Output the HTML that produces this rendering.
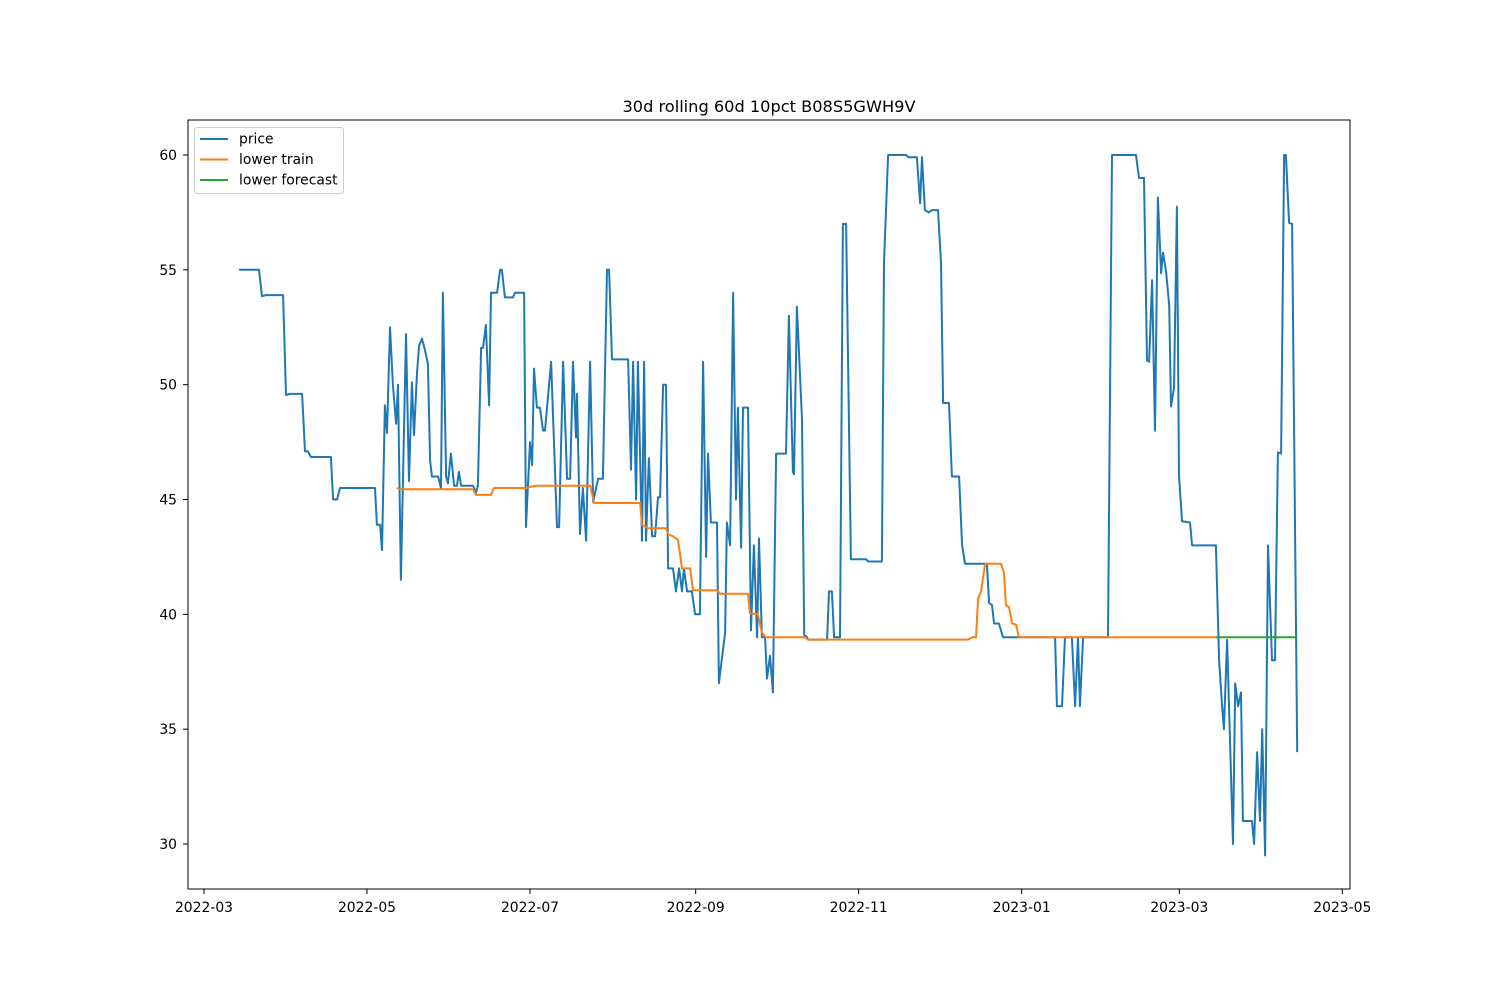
<!DOCTYPE html>
<html><head><meta charset="utf-8"><style>
html,body{margin:0;padding:0;background:#fff;}
svg text{font-family:"DejaVu Sans","Liberation Sans",sans-serif;}
</style></head><body>
<svg id="chart" width="1500" height="1000" viewBox="0 0 1500 1000" xmlns="http://www.w3.org/2000/svg">
<rect x="0" y="0" width="1500" height="1000" fill="#fff"/>
<text x="769" y="112" text-anchor="middle" font-size="16.2">30d rolling 60d 10pct B08S5GWH9V</text>
<g id="plot"></g>
<rect x="188" y="120" width="1162" height="769" fill="none" stroke="#000" stroke-width="1"/>
<g id="ticks"></g>
<g>
<rect x="194.5" y="127.5" width="149" height="66" rx="3" fill="#fff" fill-opacity="0.8" stroke="#ccc"/>
<g><line x1="200" y1="139" x2="228" y2="139" stroke="#1f77b4" stroke-width="2"/><text x="239" y="143.5" font-size="13.9">price</text></g>
<g><line x1="200" y1="159.5" x2="228" y2="159.5" stroke="#ff7f0e" stroke-width="2"/><text x="239" y="164" font-size="13.9">lower train</text></g>
<g><line x1="200" y1="180" x2="228" y2="180" stroke="#2ca02c" stroke-width="2"/><text x="239" y="184.5" font-size="13.9">lower forecast</text></g>
</g>
</svg>
<script>
// days since 2022-03-01
const xTickDays = [0, 61, 122, 184, 245, 306, 365, 426];
const xTickLabels = ["2022-03","2022-05","2022-07","2022-09","2022-11","2023-01","2023-03","2023-05"];
const yTickValues = [30, 35, 40, 45, 50, 55, 60];
const priceDays = [13.1,20.6,21.7,23.2,29.6,30.7,32.2,36.7,37.8,38.9,40.0,47.5,48.3,49.8,50.9,64.0,64.7,65.9,66.6,67.7,68.5,69.6,70.7,71.9,72.6,73.7,75.6,76.7,77.8,78.6,79.7,80.5,81.6,82.7,83.8,84.6,85.3,87.6,88.7,89.4,90.6,91.3,92.4,93.6,94.7,95.4,96.2,100.7,101.8,102.5,103.7,104.4,105.5,106.7,107.4,109.7,110.8,111.5,112.6,115.6,116.4,119.8,120.5,122.0,122.8,123.5,124.6,125.7,126.9,127.6,129.9,132.1,132.9,134.4,135.9,137.0,138.1,139.2,139.6,140.7,141.8,143.0,144.5,145.6,147.5,149.3,150.8,151.6,152.7,158.7,159.8,160.6,161.7,162.4,163.9,164.7,165.4,166.5,167.7,168.8,169.9,170.7,171.8,172.9,173.7,175.5,176.6,177.8,178.9,179.6,180.8,182.6,183.8,185.6,186.8,187.9,188.6,189.7,192.0,192.7,195.0,195.7,196.9,198.0,199.1,199.8,201.0,201.7,203.6,204.7,205.8,207.0,207.7,208.8,210.0,210.7,211.8,212.9,214.1,217.8,218.9,220.4,220.8,221.9,223.8,224.6,225.7,226.0,233.2,233.9,235.0,235.8,238.0,239.1,240.3,242.1,247.8,248.5,253.7,254.5,256.0,262.7,263.8,266.8,268.0,268.7,269.8,271.3,272.5,274.7,275.8,276.6,278.8,279.9,282.6,283.7,284.8,293.0,293.8,294.9,295.7,297.5,299.0,318.5,319.2,321.1,322.2,324.8,326.0,327.1,327.8,329.0,338.3,339.8,348.8,349.9,351.8,352.9,353.7,354.8,355.9,357.0,358.2,358.9,360.0,361.2,361.9,363.0,364.1,364.9,366.0,369.0,369.8,378.7,379.9,381.0,381.7,382.9,385.1,385.9,387.0,388.1,388.8,392.2,393.0,394.1,395.2,396.0,397.1,398.2,399.7,400.8,401.9,403.1,404.2,404.9,406.1,407.2,409.1];
const priceValues = [55,55,53.85,53.9,53.9,49.55,49.6,49.6,47.1,47.1,46.85,46.85,45,45,45.5,45.5,43.9,43.9,42.8,49.1,47.9,52.5,50,48.3,50,41.5,52.2,45.8,50.1,47.8,50.5,51.7,52,51.5,50.9,46.7,46,46,45.5,54,46,45.7,47,45.6,45.6,46.2,45.6,45.6,45.3,45.6,51.6,51.6,52.6,49.1,54,54,55,55,53.8,53.8,54,54,43.8,47.5,46.5,50.7,49,49,48,48,51,43.8,43.8,51,45.9,45.9,51,47.7,49.6,43.5,45.5,43.2,51,44.9,45.9,45.9,55,55,51.1,51.1,46.3,51,45,51,43.2,51,43.2,46.8,43.4,43.4,45.1,45.1,50,50,42,42,41,42,41,42,41,41,40,40,51,42.5,47,44,44,37,39.2,44,43,54,45,49,42.9,49,49,39.3,43,39,43.3,39,39,37.2,38.2,36.6,47,47,53,46.2,46.1,53.4,48.5,39.1,39,38.9,38.9,41,41,39,39,57,57,42.4,42.4,42.3,42.3,55.3,60,60,59.9,59.9,57.9,59.9,57.6,57.5,57.6,57.6,55.3,49.2,49.2,46,46,43,42.2,42.2,40.5,40.4,39.6,39.6,39,39,36,36,39,39,36,39,36,39,39,60,60,59,59,51.05,51,54.55,48,58.15,54.85,55.75,54.95,53.45,49.05,49.85,57.75,46.05,44.05,44,43,43,38,36,35,38.9,30,37,36,36.6,31,31,30,34,31,35,29.5,43,38,38,47.05,47,60,60,57.05,57,34];
const trainDays = [72.2,73.4,100.7,101.8,107.4,108.5,120.5,123.9,144.5,146.0,163.2,163.9,166.2,172.9,173.7,175.5,177.4,178.9,181.9,183.0,192.0,193.1,203.6,204.3,207.3,208.8,210.3,224.9,226.0,285.9,287.4,288.9,289.7,290.8,292.3,298.3,299.4,300.1,301.3,302.4,303.9,305.0,378.7];
const trainValues = [45.5,45.45,45.45,45.2,45.2,45.5,45.5,45.6,45.6,44.85,44.85,43.9,43.75,43.75,43.5,43.4,43.25,42,42,41.05,41.05,40.9,40.9,40.05,40,39.2,39.0,39.0,38.9,38.9,39.0,39.0,40.7,41,42.2,42.2,41.8,40.4,40.3,39.6,39.55,39.0,39.0];
const forecastDays = [378.7, 409.1];
const forecastValues = [39, 39];

const X0 = 204, PXD = 2.6721, Y60 = 155, PXV = 22.967;
function xScale(d){ return X0 + d*PXD; }
function yScale(v){ return Y60 + (60 - v)*PXV; }
const NS = "http://www.w3.org/2000/svg";
const plot = document.getElementById('plot');
const ticks = document.getElementById('ticks');
function addLine(days, vals, color, name){
  const p = document.createElementNS(NS,'polyline');
  p.setAttribute('points', days.map((d,i)=>xScale(d).toFixed(1)+','+yScale(vals[i]).toFixed(1)).join(' '));
  p.setAttribute('fill','none'); p.setAttribute('stroke',color); p.setAttribute('stroke-width','2');
  p.setAttribute('stroke-linejoin','round');
  
  
  plot.appendChild(p);
}
addLine(priceDays, priceValues, '#1f77b4', 'price-line');
addLine(trainDays, trainValues, '#ff7f0e', 'lower-train-line');
addLine(forecastDays, forecastValues, '#2ca02c', 'lower-forecast-line');
xTickDays.forEach((d,i)=>{
  const x = xScale(d);
  const l = document.createElementNS(NS,'line');
  l.setAttribute('x1',x); l.setAttribute('x2',x); l.setAttribute('y1',889); l.setAttribute('y2',894);
  l.setAttribute('stroke','#000');
  
  
  ticks.appendChild(l);
  const t = document.createElementNS(NS,'text');
  t.setAttribute('x',x); t.setAttribute('y',912); t.setAttribute('text-anchor','middle'); t.setAttribute('font-size','13.9');
  t.textContent = xTickLabels[i];
  
  
  ticks.appendChild(t);
});
yTickValues.forEach(v=>{
  const y = yScale(v);
  const l = document.createElementNS(NS,'line');
  l.setAttribute('x1',183); l.setAttribute('x2',188); l.setAttribute('y1',y); l.setAttribute('y2',y);
  l.setAttribute('stroke','#000');
  
  
  ticks.appendChild(l);
  const t = document.createElementNS(NS,'text');
  t.setAttribute('x',177); t.setAttribute('y',y+5); t.setAttribute('text-anchor','end'); t.setAttribute('font-size','13.9');
  t.textContent = v;
  
  
  ticks.appendChild(t);
});
</script>
</body></html>
